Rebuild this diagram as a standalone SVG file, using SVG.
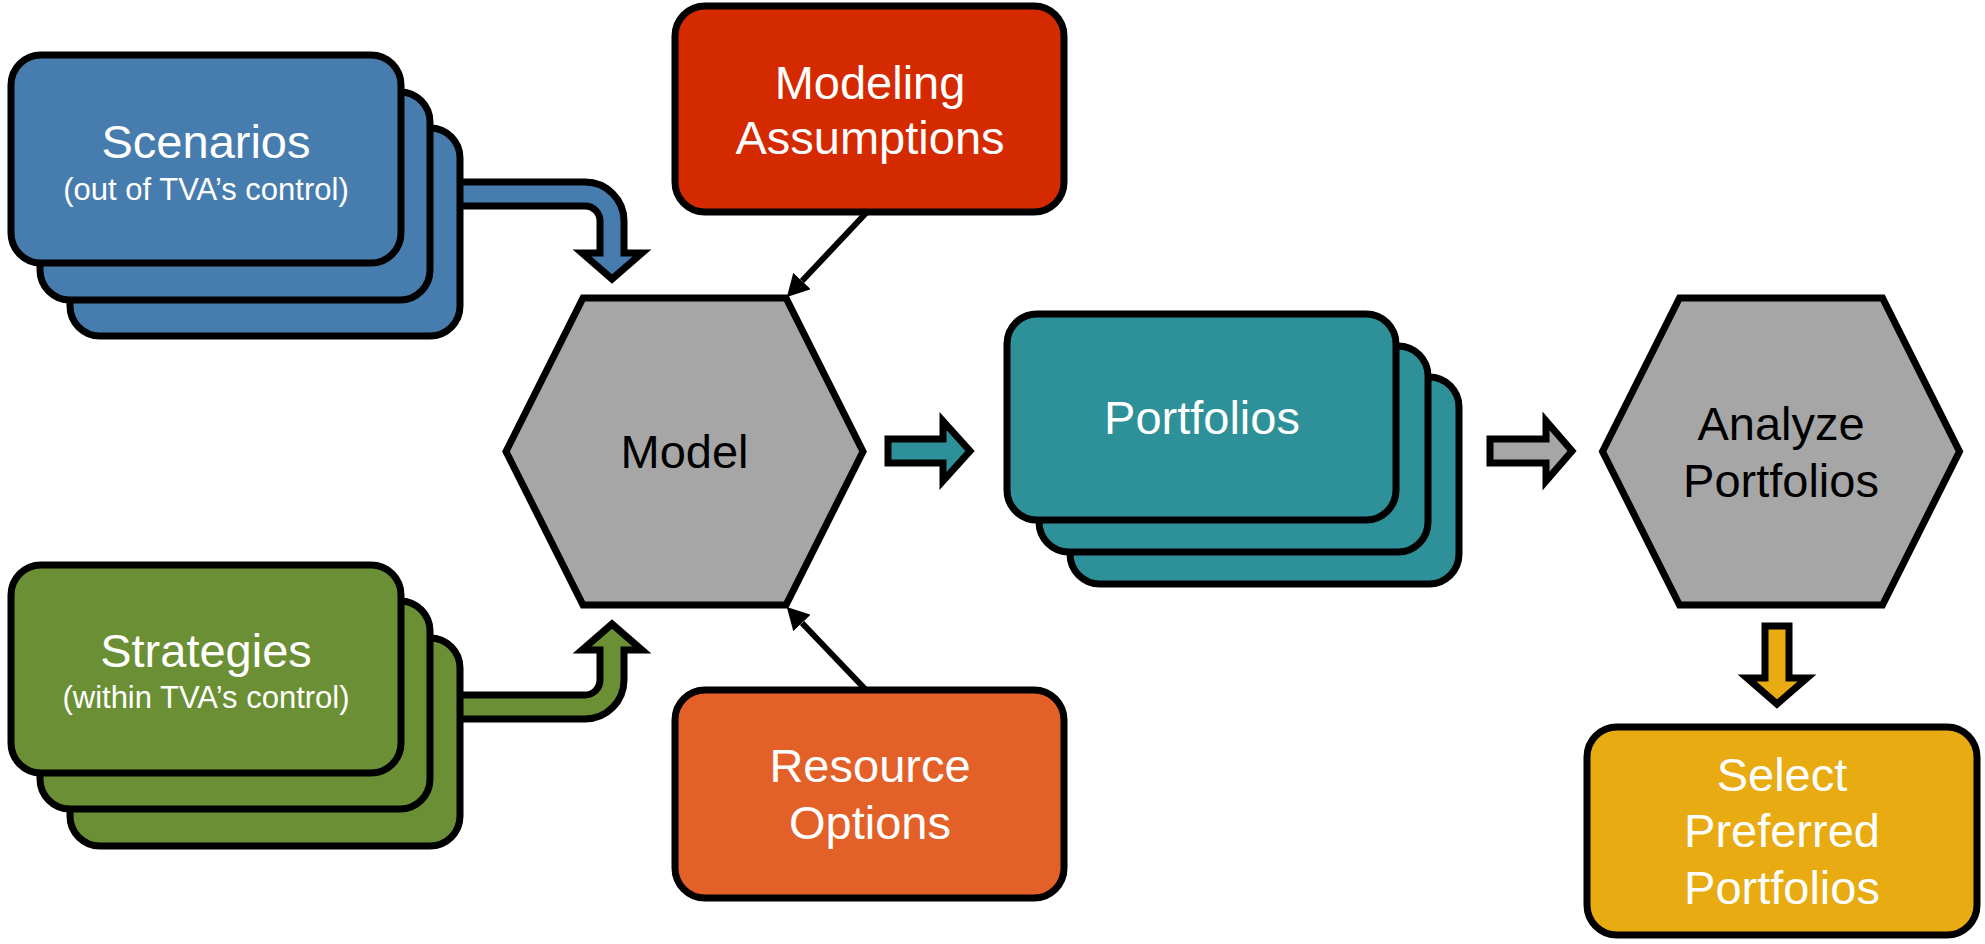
<svg xmlns="http://www.w3.org/2000/svg" width="1985" height="944" viewBox="0 0 1985 944">
<defs>
<style>
.card{stroke:#000;stroke-width:7;}
.blue{fill:#477DAE;}
.green{fill:#6B8F35;}
.teal{fill:#2E9098;}
.red{fill:#D52A00;}
.orange{fill:#E36129;}
.gray{fill:#A6A6A6;}
.yellow{fill:#E8AB12;}
.hex{fill:#A6A6A6;stroke:#000;stroke-width:7;stroke-linejoin:miter;}
.blk{stroke:#000;stroke-width:7;stroke-linejoin:miter;stroke-miterlimit:10;}
.t{font-family:"Liberation Sans",Arial,sans-serif;text-anchor:middle;}
.w{fill:#fff;}
.k{fill:#000;}
.big{font-size:47px;}
.sub{font-size:31px;}
.thin{stroke:#000;stroke-width:6;fill:none;}
</style>
<marker id="ah" viewBox="0 0 22 24" refX="0" refY="12" markerWidth="22" markerHeight="24" markerUnits="userSpaceOnUse" orient="auto">
<path d="M0,0 L22,12 L0,24 Z" fill="#000"/>
</marker>
</defs>
<rect width="1985" height="944" fill="#fff"/>

<g id="connectors">
<path class="blk blue" d="M455,182 H585 A39,39 0 0 1 624,221 V253 H642 L612,279 L582,253 H600 V221 A15,15 0 0 0 585,206 H455 Z"/>
<path class="blk green" d="M455,719 H585 A39,39 0 0 0 624,680 V650 H642 L612,624 L582,650 H600 V680 A15,15 0 0 1 585,695 H455 Z"/>
<path class="thin" d="M867,212 L802,281" marker-end="url(#ah)"/>
<path class="thin" d="M866,690 L802,623" marker-end="url(#ah)"/>
<path class="blk teal" d="M888,439 H943 V421 L970,451 L943,481 V463 H888 Z"/>
<path class="blk gray" d="M1490,439 H1546 V421 L1572,451 L1546,481 V463 H1490 Z"/>
<path class="blk yellow" d="M1765,626 V678 H1747 L1777,704 L1807,678 H1789 V626 Z"/>
</g>

<g id="scenarios">
<rect class="card blue" x="70" y="128" width="390" height="208" rx="30"/>
<rect class="card blue" x="40" y="92" width="390" height="208" rx="30"/>
<rect class="card blue" x="11" y="55" width="390" height="208" rx="30"/>
<text class="t w big" x="206" y="158">Scenarios</text>
<text class="t w sub" x="206" y="200">(out of TVA’s control)</text>
</g>

<g id="strategies">
<rect class="card green" x="70" y="638" width="390" height="208" rx="30"/>
<rect class="card green" x="40" y="601" width="390" height="208" rx="30"/>
<rect class="card green" x="11" y="565" width="390" height="208" rx="30"/>
<text class="t w big" x="206" y="667">Strategies</text>
<text class="t w sub" x="206" y="708">(within TVA’s control)</text>
</g>

<g id="modeling-assumptions">
<rect class="card red" x="675" y="6" width="389" height="206" rx="30"/>
<text class="t w big" x="870" y="99">Modeling</text>
<text class="t w big" x="870" y="154">Assumptions</text>
</g>

<g id="resource-options">
<rect class="card orange" x="675" y="690" width="389" height="208" rx="30"/>
<text class="t w big" x="870" y="782">Resource</text>
<text class="t w big" x="870" y="839">Options</text>
</g>

<g id="model">
<polygon class="hex" points="506,451.5 583,298 786,298 863,451.5 786,605 583,605"/>
<text class="t k big" x="684.5" y="468">Model</text>
</g>

<g id="portfolios">
<rect class="card teal" x="1070" y="377" width="389" height="207" rx="30"/>
<rect class="card teal" x="1039" y="346" width="389" height="206" rx="30"/>
<rect class="card teal" x="1007" y="314" width="389" height="206" rx="30"/>
<text class="t w big" x="1202" y="434">Portfolios</text>
</g>

<g id="analyze-portfolios">
<polygon class="hex" points="1602.5,451.5 1679.5,298 1882.5,298 1959.5,451.5 1882.5,605 1679.5,605"/>
<text class="t k big" x="1781" y="440">Analyze</text>
<text class="t k big" x="1781" y="497">Portfolios</text>
</g>

<g id="select-preferred-portfolios">
<rect class="card yellow" x="1587" y="727" width="390" height="208" rx="30"/>
<text class="t w big" x="1782" y="791">Select</text>
<text class="t w big" x="1782" y="847">Preferred</text>
<text class="t w big" x="1782" y="904">Portfolios</text>
</g>
</svg>
